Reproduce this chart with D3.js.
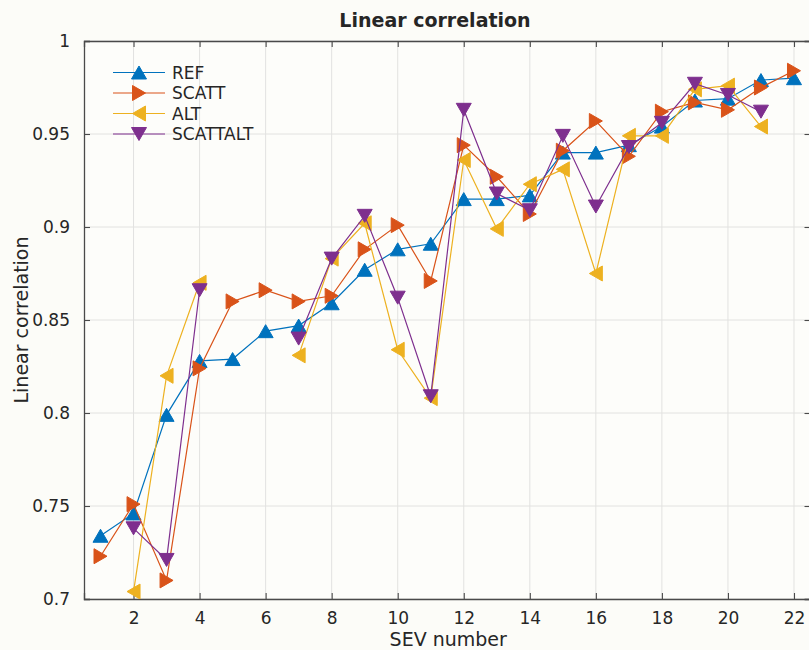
<!DOCTYPE html>
<html>
<head>
<meta charset="utf-8">
<script src="https://cdn.jsdelivr.net/npm/d3@7"></script>
<style>
  html, body { margin: 0; padding: 0; background: #fcfcf8; }
  svg { display: block; }
  text { font-family: "DejaVu Sans", sans-serif; fill: #262626; }
</style>
</head>
<body>
<script>
// ---- data ----
const sevNumbers = d3.range(1, 23);
const seriesNames = ["REF", "SCATT", "ALT", "SCATTALT"];
const refValues = [0.734, 0.746, 0.799, 0.828, 0.829, 0.844, 0.847, 0.859, 0.877, 0.888, 0.891,
                   0.915, 0.915, 0.917, 0.940, 0.940, 0.944, 0.954, 0.968, 0.969, 0.979, 0.980];
const scattValues = [0.723, 0.751, 0.710, 0.824, 0.860, 0.866, 0.860, 0.863, 0.888, 0.901, 0.871,
                     0.944, 0.927, 0.907, 0.941, 0.957, 0.938, 0.962, 0.967, 0.963, 0.975, 0.984];
const altValues = [null, 0.704, 0.820, 0.870, null, null, 0.831, 0.883, 0.902, 0.834, 0.808,
                   0.936, 0.899, 0.923, 0.931, 0.875, 0.949, 0.949, 0.974, 0.976, 0.954, null];
const scattaltValues = [null, 0.738, 0.721, 0.866, null, null, 0.840, 0.883, 0.906, 0.862, 0.809,
                        0.963, 0.918, 0.909, 0.949, 0.911, 0.943, 0.956, 0.977, 0.971, 0.962, null];
const xTicks = [2, 4, 6, 8, 10, 12, 14, 16, 18, 20, 22];
const yTicks = [0.7, 0.75, 0.8, 0.85, 0.9, 0.95, 1];
const titleText = "Linear correlation";
const xLabelText = "SEV number";
const yLabelText = "Linear correlation";

// ---- styles ----
const colors = ["#0072BD", "#D95319", "#EDB120", "#7E2F8E"];
const markerKinds = ["up", "right", "left", "down"];
const allValues = [refValues, scattValues, altValues, scattaltValues];

const W = 809, H = 650;
const mLeft = 84, mRight = 810.5, mTop = 41, mBottom = 599;

const svg = d3.select("body").append("svg").attr("width", W).attr("height", H);

const x = d3.scaleLinear().domain([0.5, 22.5]).range([mLeft, mRight]);
const y = d3.scaleLinear().domain([0.7, 1]).range([mBottom, mTop]);

svg.append("rect").attr("x", mLeft).attr("y", mTop).attr("width", mRight - mLeft).attr("height", mBottom - mTop)
  .attr("fill", "#fdfdfa");

// grid
const grid = svg.append("g");
grid.selectAll(".gx").data(xTicks).join("line")
  .attr("x1", d => x(d)).attr("x2", d => x(d)).attr("y1", mTop).attr("y2", mBottom)
  .attr("stroke", "#e2e2e0").attr("stroke-width", 1);
grid.selectAll(".gy").data(yTicks).join("line")
  .attr("y1", d => y(d)).attr("y2", d => y(d)).attr("x1", mLeft).attr("x2", mRight)
  .attr("stroke", "#e2e2e0").attr("stroke-width", 1);

// axes
const axisColor = "#4a4a4a";
const xAxis = svg.append("g").attr("transform", `translate(0,${mBottom})`)
  .call(d3.axisBottom(x).tickValues(xTicks).tickSize(-6).tickPadding(13).tickFormat(d3.format("d")));
const xAxisTop = svg.append("g").attr("transform", `translate(0,${mTop})`)
  .call(d3.axisTop(x).tickValues(xTicks).tickSize(-6).tickFormat(""));
const yAxis = svg.append("g").attr("transform", `translate(${mLeft},0)`)
  .call(d3.axisLeft(y).tickValues(yTicks).tickSize(-6).tickPadding(14).tickFormat(d => String(+d.toFixed(2))));
const yAxisRight = svg.append("g").attr("transform", `translate(${mRight},0)`)
  .call(d3.axisRight(y).tickValues(yTicks).tickSize(-6).tickFormat(""));
[xAxis, xAxisTop, yAxis, yAxisRight].forEach(g => {
  g.select(".domain").attr("stroke", axisColor).attr("stroke-width", 1.3);
  g.selectAll(".tick line").attr("stroke", axisColor).attr("stroke-width", 1.1);
  g.selectAll(".tick text").attr("font-size", 17).attr("font-family", "DejaVu Sans").attr("fill", "#262626");
});

// clip
svg.append("clipPath").attr("id", "clip").append("rect")
  .attr("x", mLeft).attr("y", mTop).attr("width", mRight - mLeft).attr("height", mBottom - mTop);

function markerPath(kind, cx, cy) {
  const a = 7.5, b = 6.5; // half-width, half-height
  if (kind === "up") return `M${cx},${cy - b}L${cx + a},${cy + b}L${cx - a},${cy + b}Z`;
  if (kind === "down") return `M${cx},${cy + b}L${cx + a},${cy - b}L${cx - a},${cy - b}Z`;
  if (kind === "right") return `M${cx + b},${cy}L${cx - b},${cy - a}L${cx - b},${cy + a}Z`;
  return `M${cx - b},${cy}L${cx + b},${cy - a}L${cx + b},${cy + a}Z`;
}

const plot = svg.append("g").attr("clip-path", "url(#clip)");
const line = d3.line().defined(d => d.v != null).x(d => x(d.x)).y(d => y(d.v));

allValues.forEach((vals, i) => {
  const pts = sevNumbers.map((s, k) => ({ x: s, v: vals[k] }));
  const g = plot.append("g");
  g.append("path").datum(pts).attr("d", line)
    .attr("fill", "none").attr("stroke", colors[i]).attr("stroke-width", 1.2);
  g.selectAll("path.m").data(pts.filter(d => d.v != null)).join("path").attr("class", "m")
    .attr("d", d => markerPath(markerKinds[i], x(d.x), y(d.v)))
    .attr("fill", colors[i]).attr("stroke", colors[i]).attr("stroke-width", 1);
});

// legend
const legend = svg.append("g");
seriesNames.forEach((name, i) => {
  const ly = 72.5 + i * 20.5;
  legend.append("line").attr("x1", 113).attr("x2", 165).attr("y1", ly).attr("y2", ly)
    .attr("stroke", colors[i]).attr("stroke-width", 1.2);
  legend.append("path").attr("d", markerPath(markerKinds[i], 139, ly))
    .attr("fill", colors[i]).attr("stroke", colors[i]).attr("stroke-width", 1);
  legend.append("text").attr("x", 172).attr("y", ly).attr("dy", "0.36em")
    .attr("font-size", 17).text(name);
});

// title and labels
svg.append("text").attr("x", 435).attr("y", 26.5).attr("text-anchor", "middle")
  .attr("font-size", 19).attr("font-weight", "bold").attr("fill", "#111").text(titleText);
svg.append("text").attr("x", (mLeft + mRight) / 2 + 1).attr("y", 646).attr("text-anchor", "middle")
  .attr("font-size", 19).text(xLabelText);
svg.append("text").attr("transform", `translate(27.5,${(mTop + mBottom) / 2}) rotate(-90)`)
  .attr("text-anchor", "middle").attr("font-size", 19).text(yLabelText);
</script>
</body>
</html>
